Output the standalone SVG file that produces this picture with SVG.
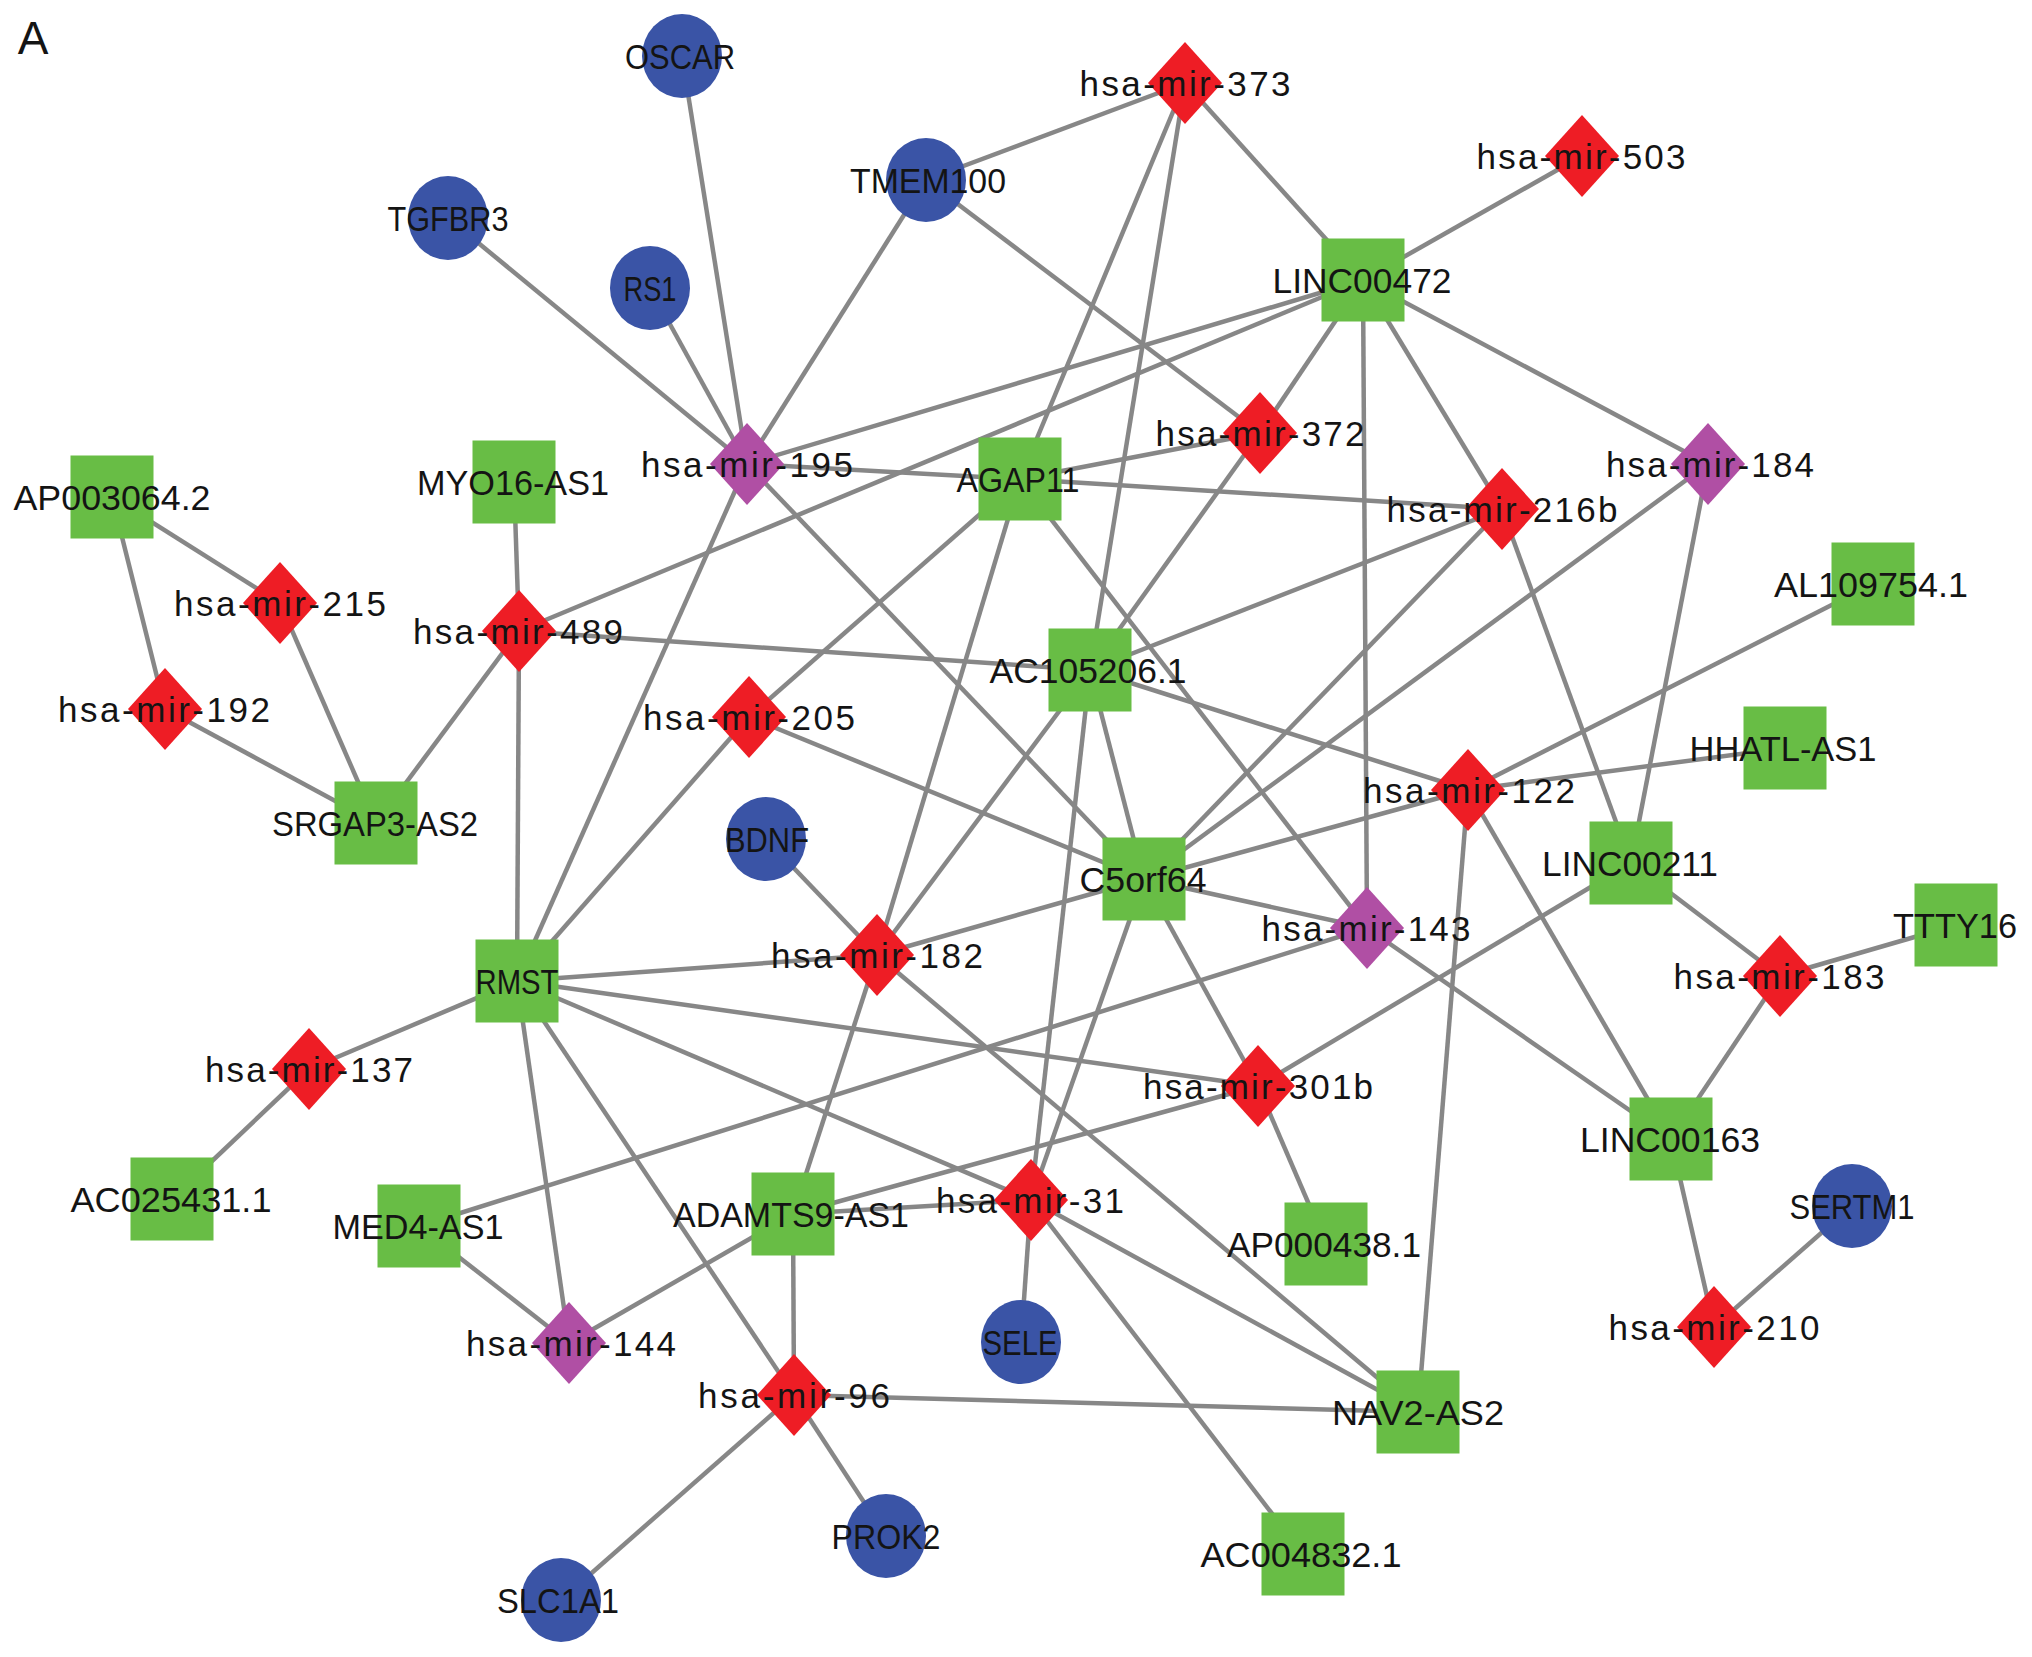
<svg xmlns="http://www.w3.org/2000/svg" xmlns:xlink="http://www.w3.org/1999/xlink" width="2032" height="1657" viewBox="0 0 2032 1657">
<style>
.e line{stroke:#878787;stroke-width:4.5;fill:none}
.sq{fill:#68BD45}
.r{fill:#EE1D25}
.p{fill:#B04FA4}
.c{fill:#3A54A6}
text{font-family:"Liberation Sans",Arial,Helvetica,sans-serif;font-size:35px;fill:#141414;text-anchor:middle}
.g{}
</style>
<defs>
<rect id="S" x="-41.5" y="-41.5" width="83" height="83"/>
<polygon id="D" points="0,-41 37,0 0,41 -37,0"/>
<ellipse id="C" rx="40" ry="42"/>
</defs>
<rect width="2032" height="1657" fill="#ffffff"/>
<text x="33" y="54" style="font-size:46px">A</text>
<g id="edges" class="e">
<line x1="682" y1="56" x2="747" y2="464"/>
<line x1="448" y1="218" x2="747" y2="464"/>
<line x1="650" y1="288" x2="747" y2="464"/>
<line x1="926" y1="180" x2="747" y2="464"/>
<line x1="926" y1="180" x2="1185" y2="83"/>
<line x1="926" y1="180" x2="1260" y2="433"/>
<line x1="1185" y1="83" x2="1363" y2="280"/>
<line x1="1185" y1="83" x2="1020" y2="479"/>
<line x1="1185" y1="83" x2="1090" y2="670"/>
<line x1="1582" y1="156" x2="1363" y2="280"/>
<line x1="1363" y1="280" x2="747" y2="464"/>
<line x1="1363" y1="280" x2="519" y2="631"/>
<line x1="1363" y1="280" x2="1260" y2="433"/>
<line x1="1363" y1="280" x2="1367" y2="928"/>
<line x1="1363" y1="280" x2="1502" y2="509"/>
<line x1="1363" y1="280" x2="1708" y2="464"/>
<line x1="747" y1="464" x2="1020" y2="479"/>
<line x1="747" y1="464" x2="517" y2="981"/>
<line x1="747" y1="464" x2="1144" y2="879"/>
<line x1="1020" y1="479" x2="1260" y2="433"/>
<line x1="1020" y1="479" x2="1502" y2="509"/>
<line x1="1020" y1="479" x2="749" y2="717"/>
<line x1="1020" y1="479" x2="877" y2="955"/>
<line x1="1020" y1="479" x2="1367" y2="928"/>
<line x1="1260" y1="433" x2="1090" y2="670"/>
<line x1="1502" y1="509" x2="1090" y2="670"/>
<line x1="1502" y1="509" x2="1144" y2="879"/>
<line x1="1502" y1="509" x2="1631" y2="863"/>
<line x1="1708" y1="464" x2="1144" y2="879"/>
<line x1="1708" y1="464" x2="1631" y2="863"/>
<line x1="1873" y1="584" x2="1468" y2="790"/>
<line x1="1785" y1="748" x2="1468" y2="790"/>
<line x1="1090" y1="670" x2="1468" y2="790"/>
<line x1="1144" y1="879" x2="1468" y2="790"/>
<line x1="1468" y1="790" x2="1418" y2="1412"/>
<line x1="1468" y1="790" x2="1671" y2="1139"/>
<line x1="1367" y1="928" x2="1144" y2="879"/>
<line x1="1367" y1="928" x2="419" y2="1226"/>
<line x1="1367" y1="928" x2="1671" y2="1139"/>
<line x1="112" y1="497" x2="280" y2="603"/>
<line x1="112" y1="497" x2="165" y2="709"/>
<line x1="280" y1="603" x2="376" y2="823"/>
<line x1="165" y1="709" x2="376" y2="823"/>
<line x1="514" y1="482" x2="519" y2="631"/>
<line x1="519" y1="631" x2="376" y2="823"/>
<line x1="519" y1="631" x2="517" y2="981"/>
<line x1="519" y1="631" x2="1090" y2="670"/>
<line x1="749" y1="717" x2="517" y2="981"/>
<line x1="749" y1="717" x2="1144" y2="879"/>
<line x1="766" y1="839" x2="877" y2="955"/>
<line x1="517" y1="981" x2="877" y2="955"/>
<line x1="1144" y1="879" x2="877" y2="955"/>
<line x1="1090" y1="670" x2="877" y2="955"/>
<line x1="877" y1="955" x2="793" y2="1214"/>
<line x1="877" y1="955" x2="1418" y2="1412"/>
<line x1="517" y1="981" x2="309" y2="1069"/>
<line x1="517" y1="981" x2="1258" y2="1086"/>
<line x1="517" y1="981" x2="1031" y2="1200"/>
<line x1="517" y1="981" x2="569" y2="1343"/>
<line x1="517" y1="981" x2="794" y2="1395"/>
<line x1="309" y1="1069" x2="172" y2="1199"/>
<line x1="1144" y1="879" x2="1258" y2="1086"/>
<line x1="1258" y1="1086" x2="1326" y2="1244"/>
<line x1="1258" y1="1086" x2="1631" y2="863"/>
<line x1="1258" y1="1086" x2="793" y2="1214"/>
<line x1="1090" y1="670" x2="1144" y2="879"/>
<line x1="1090" y1="670" x2="1031" y2="1200"/>
<line x1="1144" y1="879" x2="1031" y2="1200"/>
<line x1="1031" y1="1200" x2="793" y2="1214"/>
<line x1="1031" y1="1200" x2="1021" y2="1342"/>
<line x1="1031" y1="1200" x2="1418" y2="1412"/>
<line x1="1031" y1="1200" x2="1303" y2="1554"/>
<line x1="569" y1="1343" x2="419" y2="1226"/>
<line x1="569" y1="1343" x2="793" y2="1214"/>
<line x1="794" y1="1395" x2="793" y2="1214"/>
<line x1="794" y1="1395" x2="1418" y2="1412"/>
<line x1="794" y1="1395" x2="886" y2="1536"/>
<line x1="794" y1="1395" x2="561" y2="1600"/>
<line x1="1780" y1="976" x2="1631" y2="863"/>
<line x1="1780" y1="976" x2="1956" y2="925"/>
<line x1="1780" y1="976" x2="1671" y2="1139"/>
<line x1="1714" y1="1327" x2="1671" y2="1139"/>
<line x1="1714" y1="1327" x2="1852" y2="1206"/>
</g>
<g id="OSCAR"><use xlink:href="#C" x="682" y="56" class="c"/><text x="680" y="69" textLength="110" lengthAdjust="spacingAndGlyphs">OSCAR</text></g>
<g id="TMEM100"><use xlink:href="#C" x="926" y="180" class="c"/><text x="928" y="193" textLength="156" lengthAdjust="spacingAndGlyphs">TMEM100</text></g>
<g id="TGFBR3"><use xlink:href="#C" x="448" y="218" class="c"/><text x="448" y="231" textLength="121" lengthAdjust="spacingAndGlyphs">TGFBR3</text></g>
<g id="RS1"><use xlink:href="#C" x="650" y="288" class="c"/><text x="650" y="301" textLength="53" lengthAdjust="spacingAndGlyphs">RS1</text></g>
<g id="BDNF"><use xlink:href="#C" x="766" y="839" class="c"/><text x="767" y="852" textLength="84" lengthAdjust="spacingAndGlyphs">BDNF</text></g>
<g id="SELE"><use xlink:href="#C" x="1021" y="1342" class="c"/><text x="1020" y="1355" textLength="75" lengthAdjust="spacingAndGlyphs">SELE</text></g>
<g id="PROK2"><use xlink:href="#C" x="886" y="1536" class="c"/><text x="886" y="1549" textLength="109" lengthAdjust="spacingAndGlyphs">PROK2</text></g>
<g id="SLC1A1"><use xlink:href="#C" x="561" y="1600" class="c"/><text x="558" y="1613" textLength="122" lengthAdjust="spacingAndGlyphs">SLC1A1</text></g>
<g id="SERTM1"><use xlink:href="#C" x="1852" y="1206" class="c"/><text x="1852" y="1219" textLength="125" lengthAdjust="spacingAndGlyphs">SERTM1</text></g>
<g id="AP003064_2"><use xlink:href="#S" x="112" y="497" class="sq"/><text x="112" y="510" textLength="197" lengthAdjust="spacingAndGlyphs">AP003064.2</text></g>
<g id="MYO16-AS1"><use xlink:href="#S" x="514" y="482" class="sq"/><text x="513" y="495" textLength="192" lengthAdjust="spacingAndGlyphs">MYO16-AS1</text></g>
<g id="SRGAP3-AS2"><use xlink:href="#S" x="376" y="823" class="sq"/><text x="375" y="836" textLength="206" lengthAdjust="spacingAndGlyphs">SRGAP3-AS2</text></g>
<g id="RMST"><use xlink:href="#S" x="517" y="981" class="sq"/><text x="517" y="994" textLength="83" lengthAdjust="spacingAndGlyphs">RMST</text></g>
<g id="AGAP11"><use xlink:href="#S" x="1020" y="479" class="sq"/><text x="1018" y="492" textLength="123" lengthAdjust="spacingAndGlyphs">AGAP11</text></g>
<g id="LINC00472"><use xlink:href="#S" x="1363" y="280" class="sq"/><text x="1362" y="293" textLength="179" lengthAdjust="spacingAndGlyphs">LINC00472</text></g>
<g id="AL109754_1"><use xlink:href="#S" x="1873" y="584" class="sq"/><text x="1871" y="597" textLength="194" lengthAdjust="spacingAndGlyphs">AL109754.1</text></g>
<g id="AC105206_1"><use xlink:href="#S" x="1090" y="670" class="sq"/><text x="1088" y="683" textLength="197" lengthAdjust="spacingAndGlyphs">AC105206.1</text></g>
<g id="C5orf64"><use xlink:href="#S" x="1144" y="879" class="sq"/><text x="1143" y="892" textLength="127" lengthAdjust="spacingAndGlyphs">C5orf64</text></g>
<g id="HHATL-AS1"><use xlink:href="#S" x="1785" y="748" class="sq"/><text x="1783" y="761" textLength="187" lengthAdjust="spacingAndGlyphs">HHATL-AS1</text></g>
<g id="LINC00211"><use xlink:href="#S" x="1631" y="863" class="sq"/><text x="1630" y="876" textLength="176" lengthAdjust="spacingAndGlyphs">LINC00211</text></g>
<g id="TTTY16"><use xlink:href="#S" x="1956" y="925" class="sq"/><text x="1955" y="938" textLength="124" lengthAdjust="spacingAndGlyphs">TTTY16</text></g>
<g id="LINC00163"><use xlink:href="#S" x="1671" y="1139" class="sq"/><text x="1670" y="1152" textLength="180" lengthAdjust="spacingAndGlyphs">LINC00163</text></g>
<g id="AC025431_1"><use xlink:href="#S" x="172" y="1199" class="sq"/><text x="171" y="1212" textLength="201" lengthAdjust="spacingAndGlyphs">AC025431.1</text></g>
<g id="MED4-AS1"><use xlink:href="#S" x="419" y="1226" class="sq"/><text x="418" y="1239" textLength="171" lengthAdjust="spacingAndGlyphs">MED4-AS1</text></g>
<g id="ADAMTS9-AS1"><use xlink:href="#S" x="793" y="1214" class="sq"/><text x="791" y="1227" textLength="236" lengthAdjust="spacingAndGlyphs">ADAMTS9-AS1</text></g>
<g id="AP000438_1"><use xlink:href="#S" x="1326" y="1244" class="sq"/><text x="1324" y="1257" textLength="194" lengthAdjust="spacingAndGlyphs">AP000438.1</text></g>
<g id="NAV2-AS2"><use xlink:href="#S" x="1418" y="1412" class="sq"/><text x="1418" y="1425" textLength="172" lengthAdjust="spacingAndGlyphs">NAV2-AS2</text></g>
<g id="AC004832_1"><use xlink:href="#S" x="1303" y="1554" class="sq"/><text x="1301" y="1567" textLength="201" lengthAdjust="spacingAndGlyphs">AC004832.1</text></g>
<g id="mir-373"><use xlink:href="#D" x="1185" y="83" class="r"/><text x="1185" y="96" textLength="211">hsa-mir-373</text></g>
<g id="mir-503"><use xlink:href="#D" x="1582" y="156" class="r"/><text x="1581" y="169" textLength="209">hsa-mir-503</text></g>
<g id="mir-195"><use xlink:href="#D" x="747" y="464" class="p"/><text x="747" y="477" textLength="212">hsa-mir-195</text></g>
<g id="mir-372"><use xlink:href="#D" x="1260" y="433" class="r"/><text x="1260" y="446" textLength="209">hsa-mir-372</text></g>
<g id="mir-216b"><use xlink:href="#D" x="1502" y="509" class="r"/><text x="1502" y="522" textLength="231">hsa-mir-216b</text></g>
<g id="mir-184"><use xlink:href="#D" x="1708" y="464" class="p"/><text x="1710" y="477" textLength="208">hsa-mir-184</text></g>
<g id="mir-215"><use xlink:href="#D" x="280" y="603" class="r"/><text x="280" y="616" textLength="212">hsa-mir-215</text></g>
<g id="mir-489"><use xlink:href="#D" x="519" y="631" class="r"/><text x="518" y="644" textLength="210">hsa-mir-489</text></g>
<g id="mir-192"><use xlink:href="#D" x="165" y="709" class="r"/><text x="164" y="722" textLength="212">hsa-mir-192</text></g>
<g id="mir-137"><use xlink:href="#D" x="309" y="1069" class="r"/><text x="309" y="1082" textLength="208">hsa-mir-137</text></g>
<g id="mir-205"><use xlink:href="#D" x="749" y="717" class="r"/><text x="749" y="730" textLength="212">hsa-mir-205</text></g>
<g id="mir-182"><use xlink:href="#D" x="877" y="955" class="r"/><text x="877" y="968" textLength="212">hsa-mir-182</text></g>
<g id="mir-143"><use xlink:href="#D" x="1367" y="928" class="p"/><text x="1366" y="941" textLength="209">hsa-mir-143</text></g>
<g id="mir-301b"><use xlink:href="#D" x="1258" y="1086" class="r"/><text x="1258" y="1099" textLength="230">hsa-mir-301b</text></g>
<g id="mir-122"><use xlink:href="#D" x="1468" y="790" class="r"/><text x="1469" y="803" textLength="212">hsa-mir-122</text></g>
<g id="mir-183"><use xlink:href="#D" x="1780" y="976" class="r"/><text x="1779" y="989" textLength="211">hsa-mir-183</text></g>
<g id="mir-31"><use xlink:href="#D" x="1031" y="1200" class="r"/><text x="1030" y="1213" textLength="188">hsa-mir-31</text></g>
<g id="mir-144"><use xlink:href="#D" x="569" y="1343" class="p"/><text x="571" y="1356" textLength="210">hsa-mir-144</text></g>
<g id="mir-96"><use xlink:href="#D" x="794" y="1395" class="r"/><text x="794" y="1408" textLength="192">hsa-mir-96</text></g>
<g id="mir-210"><use xlink:href="#D" x="1714" y="1327" class="r"/><text x="1714" y="1340" textLength="211">hsa-mir-210</text></g>
</svg>
